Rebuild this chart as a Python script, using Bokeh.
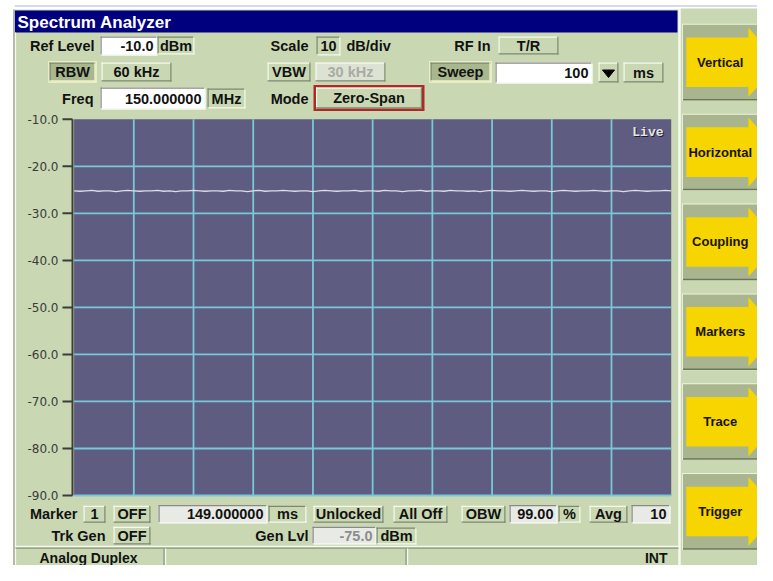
from bokeh.plotting import figure
from bokeh.models import Range1d, ColumnDataSource
from bokeh.core.properties import value
from bokeh.embed import file_html
from bokeh.resources import INLINE

# ---------------- chart data ----------------
sweep_ms = [0, 10, 20, 30, 40, 50, 60, 70, 80, 90, 100]          # 10 horizontal divisions (100 ms sweep)
level_ticks = [-10, -20, -30, -40, -50, -60, -70, -80, -90]       # dBm
level_labels = ["-10.0", "-20.0", "-30.0", "-40.0", "-50.0", "-60.0", "-70.0", "-80.0", "-90.0"]
trace_time = list(range(0, 101))                                  # ms
trace_level = [
    -25.2, -25.3, -25.2, -25.1, -25.3, -25.2, -25.2, -25.4, -25.2, -25.1,
    -25.2, -25.3, -25.2, -25.2, -25.1, -25.3, -25.2, -25.4, -25.2, -25.2,
    -25.1, -25.2, -25.3, -25.2, -25.2, -25.3, -25.1, -25.2, -25.2, -25.4,
    -25.2, -25.1, -25.3, -25.2, -25.2, -25.1, -25.2, -25.3, -25.2, -25.2,
    -25.4, -25.2, -25.1, -25.2, -25.3, -25.2, -25.2, -25.1, -25.3, -25.2,
    -25.2, -25.3, -25.1, -25.2, -25.2, -25.4, -25.2, -25.2, -25.1, -25.3,
    -25.2, -25.2, -25.3, -25.1, -25.2, -25.2, -25.3, -25.2, -25.4, -25.2,
    -25.1, -25.2, -25.2, -25.3, -25.2, -25.1, -25.2, -25.3, -25.2, -25.2,
    -25.4, -25.2, -25.1, -25.2, -25.3, -25.2, -25.2, -25.1, -25.2, -25.3,
    -25.2, -25.2, -25.4, -25.2, -25.1, -25.2, -25.3, -25.2, -25.2, -25.1,
    -25.2]
softkeys = ["Vertical", "Horizontal", "Coupling", "Markers", "Trace", "Trigger"]

# ---------------- styling / layout ----------------
GREEN = "#c9d8b2"
LIGHT = "#f6f9ee"
DARK = "#7d8870"
PRESSED = "#a9b78f"
WHITE = "#ffffff"
LGREY = "#e8eae5"
NAVY = "#00007f"
PLOT_BG = "#5e5c80"
GRID = "#78c8d8"
TXT = "#121212"
FS = "14.5px"

W, H = 757, 565                              # canvas size
PL, PR, PT, PB = 73.6, 670.7, 118.8, 495.0   # chart frame (canvas pixels)


# layout helpers: screen design is 773x581, squeezed into the canvas at its
# right strip and below the graticule only
def fx(x):
    return x if x <= 680 else 680 + (x - 680) * (W - 680) / (773 - 680)


def fy(y):
    return y if y <= 498 else 498 + (y - 498) * (H - 498) / (581 - 498)


def fyr(y):
    return y * H / 581.0


p = figure(width=W, height=H, output_backend="svg", toolbar_location=None,
           x_range=Range1d(0, W), y_range=Range1d(H, 0),
           x_axis_type=None, y_axis_type=None, min_border=0)
p.outline_line_color = None
p.background_fill_color = "white"
p.border_fill_color = "white"

t0, t1 = sweep_ms[0], sweep_ms[-1]
ms_px = (t1 - t0) / (PR - PL)
db_top, db_bot = level_ticks[0], level_ticks[-1]
db_px = (db_top - db_bot) / (PB - PT)
p.extra_x_ranges = {"t": Range1d(t0 - PL * ms_px, t1 + (W - PR) * ms_px)}
p.extra_y_ranges = {"db": Range1d(db_bot - (H - PB) * db_px, db_top + PT * db_px)}

Q = dict(l=[], r=[], t=[], b=[], c=[])
L = dict(x0=[], y0=[], x1=[], y1=[], c=[], w=[])
TX = {}


def quad(x0, y0, x1, y1, c, gy=fy):
    Q["l"].append(fx(x0)); Q["r"].append(fx(x1)); Q["t"].append(gy(y0)); Q["b"].append(gy(y1))
    Q["c"].append(c)


def line(x0, y0, x1, y1, c, w=1.2, gy=fy):
    L["x0"].append(fx(x0)); L["y0"].append(gy(y0)); L["x1"].append(fx(x1)); L["y1"].append(gy(y1))
    L["c"].append(c); L["w"].append(w)


def box(x0, y0, x1, y1, fill, tl, br):
    quad(x0, y0, x1, y1, fill)
    a, b, c, d = fx(x0), fy(y0), fx(x1), fy(y1)
    for (u0, v0, u1, v1, col) in ((a, b + 0.6, c, b + 0.6, tl), (a + 0.6, b, a + 0.6, d, tl),
                                  (a, d - 0.6, c, d - 0.6, br), (c - 0.6, b, c - 0.6, d, br)):
        L["x0"].append(u0); L["y0"].append(v0); L["x1"].append(u1); L["y1"].append(v1)
        L["c"].append(col); L["w"].append(1.2)


def txt(x, y, s, align="center", color=TXT, size=FS, style="bold", font="Liberation Sans", gy=fy):
    key = (align, size, style, font)
    d = TX.setdefault(key, dict(x=[], y=[], s=[], c=[]))
    d["x"].append(fx(x)); d["y"].append(gy(y)); d["s"].append(s); d["c"].append(color)


def raised(x0, y0, x1, y1, label, color=TXT, fill=GREEN):
    box(x0, y0, x1, y1, fill, LIGHT, DARK)
    txt((x0 + x1) / 2, (y0 + y1) / 2, label, "center", color)


def flat(x0, y0, x1, y1, label):
    box(x0, y0, x1, y1, GREEN, DARK, LIGHT)
    txt((x0 + x1) / 2, (y0 + y1) / 2, label, "center")


def pressed(x0, y0, x1, y1, label):
    box(x0 - 1, y0 - 1, x1 + 1, y1 + 1, "#f2f4cc", "#f2f4cc", "#f2f4cc")
    box(x0, y0, x1, y1, PRESSED, DARK, "#eef0c8")
    txt((x0 + x1) / 2, (y0 + y1) / 2, label, "center")


def entry(x0, y0, x1, y1, label, fill=WHITE, color=TXT):
    box(x0, y0, x1, y1, fill, "#8a8a8a", LIGHT)
    txt(x1 - 4, (y0 + y1) / 2, label, "right", color)


# ---- panels ----
line(14, 5.5, 773, 5.5, "#d6dce8", 2)
quad(13, 9, 679, 581, GREEN)
line(13.5, 9, 13.5, 581, "#a4a8a0", 1.5)
line(15, 32, 15, 581, LIGHT, 1.2)
quad(14.5, 10, 677, 32, NAVY)
txt(17, 21.5, "Spectrum Analyzer", "left", "#ffffff", "17px")
line(678.8, 8, 678.8, 581, LIGHT, 2.2)
quad(680, 8, 773, 581, GREEN)

# ---- top controls ----
txt(94, 45.5, "Ref Level", "right")
entry(100, 36, 157, 55, "-10.0")
flat(157, 36, 194, 54, "dBm")
txt(308, 45.5, "Scale", "right")
flat(316, 36, 340, 55, "10")
txt(346, 45.5, "dB/div", "left")
txt(490, 45.5, "RF In", "right")
raised(498, 36, 558, 54, "T/R")

pressed(49, 62, 95, 81, "RBW")
raised(101, 62, 171, 81, "60 kHz")
raised(267, 62, 310, 81, "VBW")
raised(315, 62, 385, 81, "30 kHz", color="#a8aca4", fill="#dde3d4")
pressed(430, 62, 490, 81, "Sweep")
entry(495, 62, 592, 83, "100")
box(598, 62, 618, 82, GREEN, LIGHT, DARK)
raised(623, 62, 663, 82, "ms")

txt(93, 98, "Freq", "right")
entry(100, 87, 205, 109, "150.000000")
flat(207, 88, 245, 108, "MHz")
txt(308, 98, "Mode", "right")
quad(313, 84.5, 424, 110.5, "#b02828")
raised(315.5, 87, 421.5, 108, "Zero-Span")

# ---- bottom controls ----
txt(77, 517.5, "Marker", "right")
raised(83, 507, 105, 528, "1")
raised(113, 507, 150, 528, "OFF")
entry(158, 506, 267, 529, "149.000000", fill=LGREY)
flat(268, 507, 306, 528, "ms")
raised(313, 507, 383, 528, "Unlocked")
raised(393, 507, 447, 528, "All Off")
raised(461, 507, 505, 528, "OBW")
entry(509, 506, 557, 529, "99.00", fill=LGREY)
flat(558, 507, 580, 528, "%")
raised(589, 507, 627, 528, "Avg")
entry(631, 506, 670, 529, "10", fill=LGREY)

txt(105, 544, "Trk Gen", "right")
raised(113, 533, 150, 555, "OFF")
txt(308, 544, "Gen Lvl", "right")
entry(312, 533, 376, 555, "-75.0", fill=LGREY, color="#8c8c8c")
flat(376, 534, 416, 555, "dBm")

# ---- status bar ----
line(15, 557.5, 678, 557.5, LIGHT, 1.5)
line(15, 559.5, 678, 559.5, "#8c9682", 1.2)
for xs in (163.5, 405.5):
    line(xs, 560, xs, 581, "#8c9682", 1.2)
    line(xs + 1.6, 560, xs + 1.6, 581, LIGHT, 1.2)
txt(88, 572, "Analog Duplex", "center", size="14px")
txt(667, 572, "INT", "right", size="14px")

# ---- soft keys ----
key_xs, key_ys = [], []
for i, name in enumerate(softkeys):
    top = 25 + i * 92.4
    quad(682, top - 1, 773, top + 78, "#eef4dc", gy=fyr)
    quad(683, top, 773, top + 77, "#a8b58e", gy=fyr)
    line(683, top + 77, 773, top + 77, "#6c765c", 1.5, gy=fyr)
    key_xs.append([fx(v) for v in (687, 762, 762, 800, 762, 762, 687)])
    key_ys.append([fyr(top + v) for v in (13, 13, 3, 38.5, 74, 64, 64)])
    txt(728, top + 38.5, name, "center", "#161400", size="13px", gy=fyr)

# ---- draw layout primitives ----
p.quad(left="l", right="r", top="t", bottom="b", fill_color="c", line_color=None,
       source=ColumnDataSource(Q))
p.patches(key_xs, key_ys, fill_color="#f6d500", line_color=None)
p.patches([[602, 614, 608]], [[69.5, 69.5, 77]], fill_color="#000000", line_color="#000000", line_width=1)
p.segment(x0="x0", y0="y0", x1="x1", y1="y1", line_color="c", line_width="w",
          source=ColumnDataSource(L))

# ---- chart ----
p.quad(left=[t0], right=[t1], top=[db_top], bottom=[db_bot], fill_color=PLOT_BG,
       line_color=None, x_range_name="t", y_range_name="db")
inner = sweep_ms[1:-1]
p.segment(x0=inner, x1=inner, y0=[db_bot] * len(inner), y1=[db_top] * len(inner),
          line_color=GRID, line_width=1.8, x_range_name="t", y_range_name="db")
hl = level_ticks[1:]
p.segment(x0=[t0] * len(hl), x1=[t1] * len(hl), y0=hl, y1=hl,
          line_color=GRID, line_width=1.8, x_range_name="t", y_range_name="db")
p.line(trace_time, trace_level, line_color="#dcdce8", line_width=1.3,
       x_range_name="t", y_range_name="db")

# y axis (drawn at the left edge of the graticule)
p.segment(x0=[72], x1=[72], y0=[db_top], y1=[db_bot], line_color="#3c3c3c",
          line_width=2, y_range_name="db")
p.segment(x0=[62] * len(level_ticks), x1=[72] * len(level_ticks), y0=level_ticks, y1=level_ticks,
          line_color="#3c3c3c", line_width=2, y_range_name="db")
p.text(x=[58] * len(level_ticks), y=level_ticks, text=level_labels, y_range_name="db",
       text_align="right", text_baseline="middle", text_color="#3a3a3a",
       text_font=value("DejaVu Sans"), text_font_size="12px")

# "Live" tag
p.text(x=[664], y=[132.5], text=["Live"], text_align="right", text_baseline="middle",
       text_color="#1c1c2c", text_font=value("Liberation Mono"), text_font_size="13px",
       text_font_style="bold")
p.text(x=[663], y=[131.5], text=["Live"], text_align="right", text_baseline="middle",
       text_color="#e4e4e4", text_font=value("Liberation Mono"), text_font_size="13px",
       text_font_style="bold")

# ---- texts ----
for (align, size, style, font), d in TX.items():
    p.text(x=d["x"], y=d["y"], text=d["s"], text_color=d["c"], text_align=align,
           text_baseline="middle", text_font=value(font), text_font_size=size,
           text_font_style=style)

open("out.html", "w").write(file_html(p, INLINE))
